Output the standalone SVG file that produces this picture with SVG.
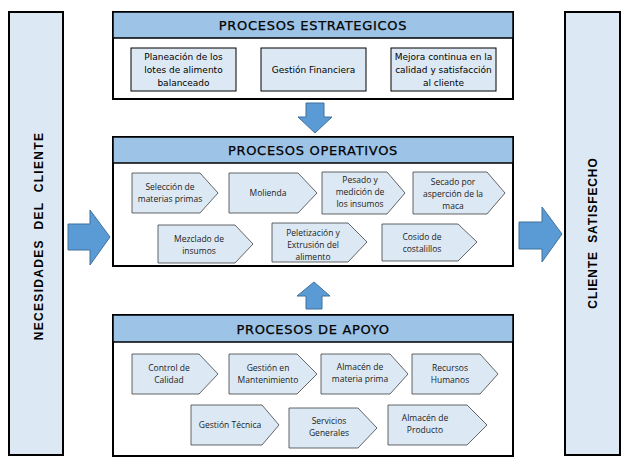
<svg xmlns="http://www.w3.org/2000/svg" width="630" height="467" viewBox="0 0 630 467">
<style>
.col{fill:#dce9f5;stroke:#000;stroke-width:2}
.frame{fill:#fff;stroke:#000;stroke-width:2}
.band{fill:#9dc3e6;stroke:#000;stroke-width:1.5}
.box{fill:#dce9f5;stroke:#000;stroke-width:1}
.chev{fill:#dce9f5;stroke:#404040;stroke-width:0.8}
.arrow{fill:#5b9bd5;stroke:#41719c;stroke-width:1}
.title{font-family:"DejaVu Sans","Liberation Sans",sans-serif;font-size:13px;fill:#000;text-anchor:middle;letter-spacing:0.7px;stroke:#000;stroke-width:0.25}
.vt{font-family:"Liberation Sans",Arial,sans-serif;font-weight:bold;font-size:12px;fill:#000;text-anchor:middle}
.sm{font-family:"DejaVu Sans","Liberation Sans",sans-serif;font-size:9px;fill:#000;text-anchor:middle}
.ct{font-family:"Open Sans","Liberation Sans",sans-serif;font-size:8.5px;fill:#222;text-anchor:middle}
</style>

<g id="necesidades">
<rect class="col" x="9" y="12" width="54" height="443"/>
<text class="vt" transform="translate(43,236) rotate(-90)" letter-spacing="1.3" word-spacing="5">NECESIDADES DEL CLIENTE</text>
</g>

<g id="cliente-satisfecho">
<rect class="col" x="565" y="12" width="55" height="443"/>
<text class="vt" transform="translate(597,233) rotate(-90)" letter-spacing="0.9" word-spacing="4">CLIENTE SATISFECHO</text>
</g>

<g id="estrategicos">
<rect class="frame" x="113" y="12" width="400" height="87"/>
<rect class="band" x="113" y="12" width="400" height="26"/>
<text class="title" x="313" y="30">PROCESOS ESTRATEGICOS</text>
<g id="planeacion">
<rect class="box" x="131" y="48" width="105" height="43"/>
<text class="sm" x="183.5" y="60">Planeación de los</text>
<text class="sm" x="183.5" y="73">lotes de alimento</text>
<text class="sm" x="183.5" y="86">balanceado</text>
</g>
<g id="gestion-financiera">
<rect class="box" x="261" y="48" width="105" height="43"/>
<text class="sm" x="313.5" y="73">Gestión Financiera</text>
</g>
<g id="mejora-continua">
<rect class="box" x="391" y="48" width="105" height="43"/>
<text class="sm" x="443.5" y="60">Mejora continua en la</text>
<text class="sm" x="443.5" y="73">calidad y satisfacción</text>
<text class="sm" x="443.5" y="86">al cliente</text>
</g>
</g>

<g id="operativos">
<rect class="frame" x="113" y="137" width="400" height="129"/>
<rect class="band" x="113" y="137" width="400" height="26"/>
<text class="title" x="313" y="155">PROCESOS OPERATIVOS</text>
<g id="seleccion">
<polygon class="chev" points="132,173 200,173 218,193 200,213 132,213"/>
<text class="ct" x="170" y="190">Selección de</text>
<text class="ct" x="170" y="202">materias primas</text>
</g>
<g id="molienda">
<polygon class="chev" points="229,173 298,173 317,193 298,213 229,213"/>
<text class="ct" x="268" y="196">Molienda</text>
</g>
<g id="pesado">
<polygon class="chev" points="322,172 387,172 405,193 387,214 322,214"/>
<text class="ct" x="360" y="183">Pesado y</text>
<text class="ct" x="360" y="195">medición de</text>
<text class="ct" x="360" y="207">los insumos</text>
</g>
<g id="secado">
<polygon class="chev" points="413,172 487,172 505,193 487,214 413,214"/>
<text class="ct" x="453" y="185">Secado por</text>
<text class="ct" x="453" y="197">asperción de la</text>
<text class="ct" x="453" y="209">maca</text>
</g>
<g id="mezclado">
<polygon class="chev" points="158,225 235,225 253,244 235,263 158,263"/>
<text class="ct" x="199" y="242">Mezclado de</text>
<text class="ct" x="199" y="254">insumos</text>
</g>
<g id="peletizacion">
<polygon class="chev" points="272,223 348,223 367,242 348,262 272,262"/>
<text class="ct" x="313" y="236">Peletización y</text>
<text class="ct" x="313" y="248">Extrusión del</text>
<text class="ct" x="313" y="260">alimento</text>
</g>
<g id="cosido">
<polygon class="chev" points="382,224 458,224 477,242 458,261 382,261"/>
<text class="ct" x="422" y="240">Cosido de</text>
<text class="ct" x="422" y="252">costalillos</text>
</g>
</g>

<g id="apoyo">
<rect class="frame" x="113" y="315" width="400" height="141"/>
<rect class="band" x="113" y="315" width="400" height="27"/>
<text class="title" x="313" y="334">PROCESOS DE APOYO</text>
<g id="control-calidad">
<polygon class="chev" points="132,354 199,354 218,374 199,394 132,394"/>
<text class="ct" x="169" y="371">Control de</text>
<text class="ct" x="169" y="383">Calidad</text>
</g>
<g id="gestion-mantenimiento">
<polygon class="chev" points="229,354 297,354 317,374 297,394 229,394"/>
<text class="ct" x="268" y="371">Gestión en</text>
<text class="ct" x="268" y="383">Mantenimiento</text>
</g>
<g id="almacen-mp">
<polygon class="chev" points="321,354 390,354 408,374 390,394 321,394"/>
<text class="ct" x="360" y="370">Almacén de</text>
<text class="ct" x="360" y="382">materia prima</text>
</g>
<g id="recursos-humanos">
<polygon class="chev" points="412,354 480,354 498,374 480,394 412,394"/>
<text class="ct" x="450" y="371">Recursos</text>
<text class="ct" x="450" y="383">Humanos</text>
</g>
<g id="gestion-tecnica">
<polygon class="chev" points="191,405 262,405 279,425 262,445 191,445"/>
<text class="ct" x="230" y="428">Gestión Técnica</text>
</g>
<g id="servicios-generales">
<polygon class="chev" points="289,408 358,408 377,428 358,448 289,448"/>
<text class="ct" x="329" y="424">Servicios</text>
<text class="ct" x="329" y="436">Generales</text>
</g>
<g id="almacen-producto">
<polygon class="chev" points="388,405 467,405 487,425 467,445 388,445"/>
<text class="ct" x="425" y="421">Almacén de</text>
<text class="ct" x="425" y="433">Producto</text>
</g>
</g>

<g id="connectors">
<polygon class="arrow" points="306,103 324,103 324,117 332,117 315,133 298,117 306,117"/>
<polygon class="arrow" points="306,309 322,309 322,296 330,296 314,282 297,296 306,296"/>
<polygon class="arrow" points="68,224 90,224 90,210 110,237 90,265 90,250 68,250"/>
<polygon class="arrow" points="519,222 542,222 542,207 562,234 542,262 542,249 519,249"/>
</g>
</svg>
